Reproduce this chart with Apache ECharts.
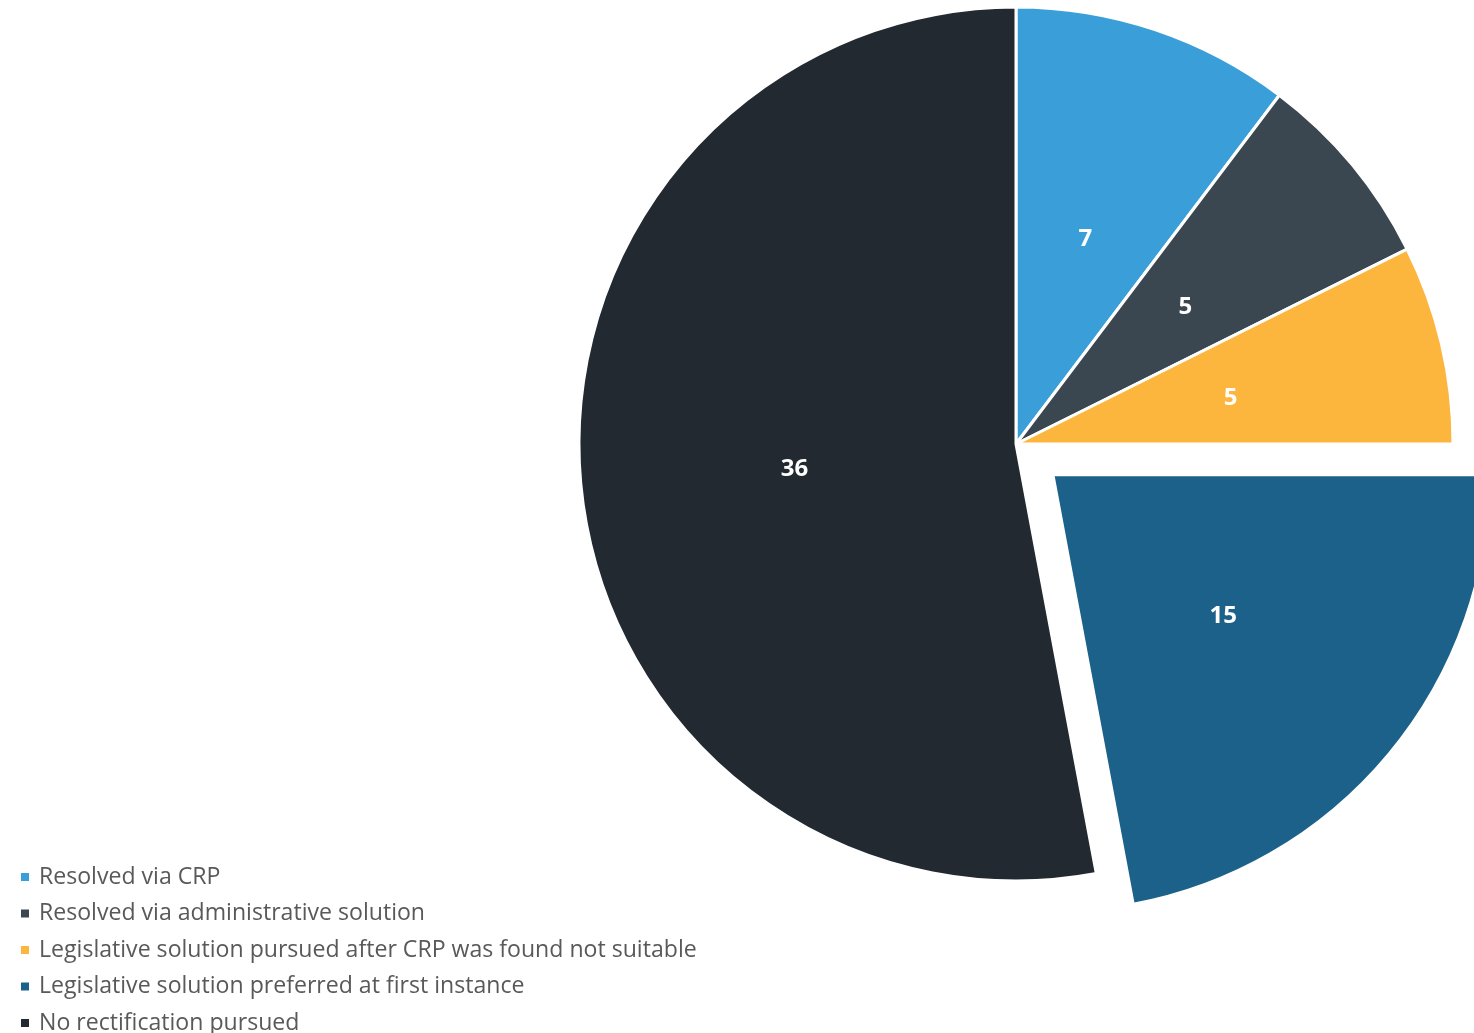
<!DOCTYPE html>
<html>
<head>
<meta charset="utf-8">
<script src="https://cdn.jsdelivr.net/npm/echarts@6/dist/echarts.min.js"></script>
<style>
html,body{margin:0;padding:0;background:#fff;}
#chart{width:1474px;height:1033px;}
</style>
</head>
<body>
<div id="chart"></div>
<script>
const categories = [
  'Resolved via CRP',
  'Resolved via administrative solution',
  'Legislative solution pursued after CRP was found not suitable',
  'Legislative solution preferred at first instance',
  'No rectification pursued'
];
const values = [7, 5, 5, 15, 36];
const colors = ['#3A9FD8', '#3A4650', '#FCB63E', '#1B6189', '#222931'];
const explodedIndex = 3;

const chart = echarts.init(document.getElementById('chart'), null, {renderer: 'canvas'});
chart.setOption({
  animation: false,
  color: colors,
  legend: {
    orient: 'vertical',
    left: 19,
    top: 864,
    padding: 0,
    height: 200,
    icon: 'rect',
    itemWidth: 10,
    itemHeight: 10,
    itemGap: 10.5,
    selectedMode: false,
    textStyle: {
      fontFamily: 'Open Sans',
      fontSize: 23.1,
      color: '#595959',
      lineHeight: 26,
      padding: [0, 0, 0, 4]
    },
    data: categories
  },
  series: [{
    type: 'pie',
    center: [1016, 444],
    radius: [0, 437],
    startAngle: 90,
    clockwise: true,
    selectedMode: 'single',
    selectedOffset: 48,
    avoidLabelOverlap: false,
    itemStyle: {borderColor: '#ffffff', borderWidth: 3},
    label: {
      show: true,
      position: 'inside',
      formatter: '{c}',
      color: '#ffffff',
      fontFamily: 'Open Sans',
      fontWeight: 'bold',
      fontSize: 24,
      offset: [-1, 5]
    },
    labelLine: {show: false},
    emphasis: {disabled: true},
    data: categories.map((name, i) => ({
      name: name,
      value: values[i],
      selected: i === explodedIndex
    }))
  }]
});
</script>
</body>
</html>
